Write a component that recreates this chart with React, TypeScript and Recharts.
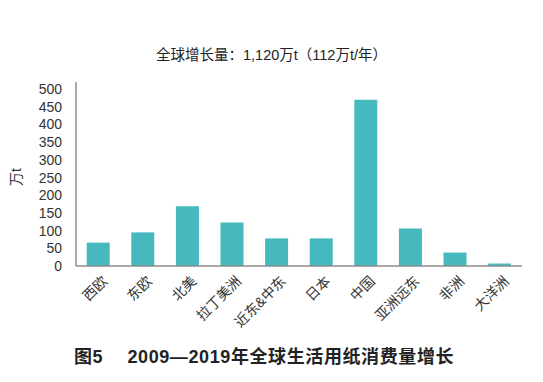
import React from 'react';
import { BarChart, Bar, XAxis, YAxis } from 'recharts';

const regions = ['西欧', '东欧', '北美', '拉丁美洲', '近东&中东', '日本', '中国', '亚洲远东', '非洲', '大洋洲'];
const growth = [66, 95, 169, 123, 78, 78, 470, 106, 38, 7];
const yTicks = [0, 50, 100, 150, 200, 250, 300, 350, 400, 450, 500];
const title = '全球增长量：1,120万t（112万t/年）';
const caption = '图5\u3000 2009—2019年全球生活用纸消费量增长';
const unitLabel = '万t';

const data = regions.map((r, i) => ({ name: r, value: growth[i] }));

const FONT = '"Liberation Sans", "Noto Sans CJK SC", sans-serif';

const XTick = (props: any) => {
  const { x, y, payload } = props;
  return (
    <g transform={`translate(${x + 10},${y + 8})`}>
      <text textAnchor="end" transform="rotate(-45)" fontSize={14} fill="#333" fontFamily={FONT}>
        {payload.value}
      </text>
    </g>
  );
};

export default function App() {
  return (
    <div style={{ position: 'absolute', left: 0, top: 0, width: 543, height: 382, background: '#fff', fontFamily: FONT }}>
      <div style={{ position: 'absolute', left: 0, width: 543, top: 45, textAlign: 'center', fontSize: 14.5, color: '#222', lineHeight: '20px' }}>
        {title}
      </div>
      <div style={{ position: 'absolute', left: 5, top: 167, width: 20, height: 20, display: 'flex', alignItems: 'center', justifyContent: 'center', transform: 'rotate(-90deg)', fontSize: 14, color: '#333', whiteSpace: 'nowrap' }}>
        {unitLabel}
      </div>
      <div style={{ position: 'absolute', left: 74, top: 346, fontSize: 18, fontWeight: 'bold', letterSpacing: 0.6, color: '#222', whiteSpace: 'pre', lineHeight: '22px' }}>
        {caption}
      </div>
      <BarChart width={543} height={382} data={data} margin={{ top: 82, right: 21, bottom: 86, left: 0 }} barCategoryGap="24%">
        <XAxis dataKey="name" height={30} tickLine={false} stroke="#8c8c8c" strokeWidth={1.5} tick={<XTick />} interval={0} />
        <YAxis width={76} domain={[0, 520]} ticks={yTicks} tickLine={false} tickMargin={8} stroke="#8c8c8c" strokeWidth={1.5} tick={{ fontSize: 14, fill: '#333', fontFamily: FONT }} interval={0} />
        <Bar dataKey="value" fill="#45b9bd" isAnimationActive={false} />
      </BarChart>
    </div>
  );
}
